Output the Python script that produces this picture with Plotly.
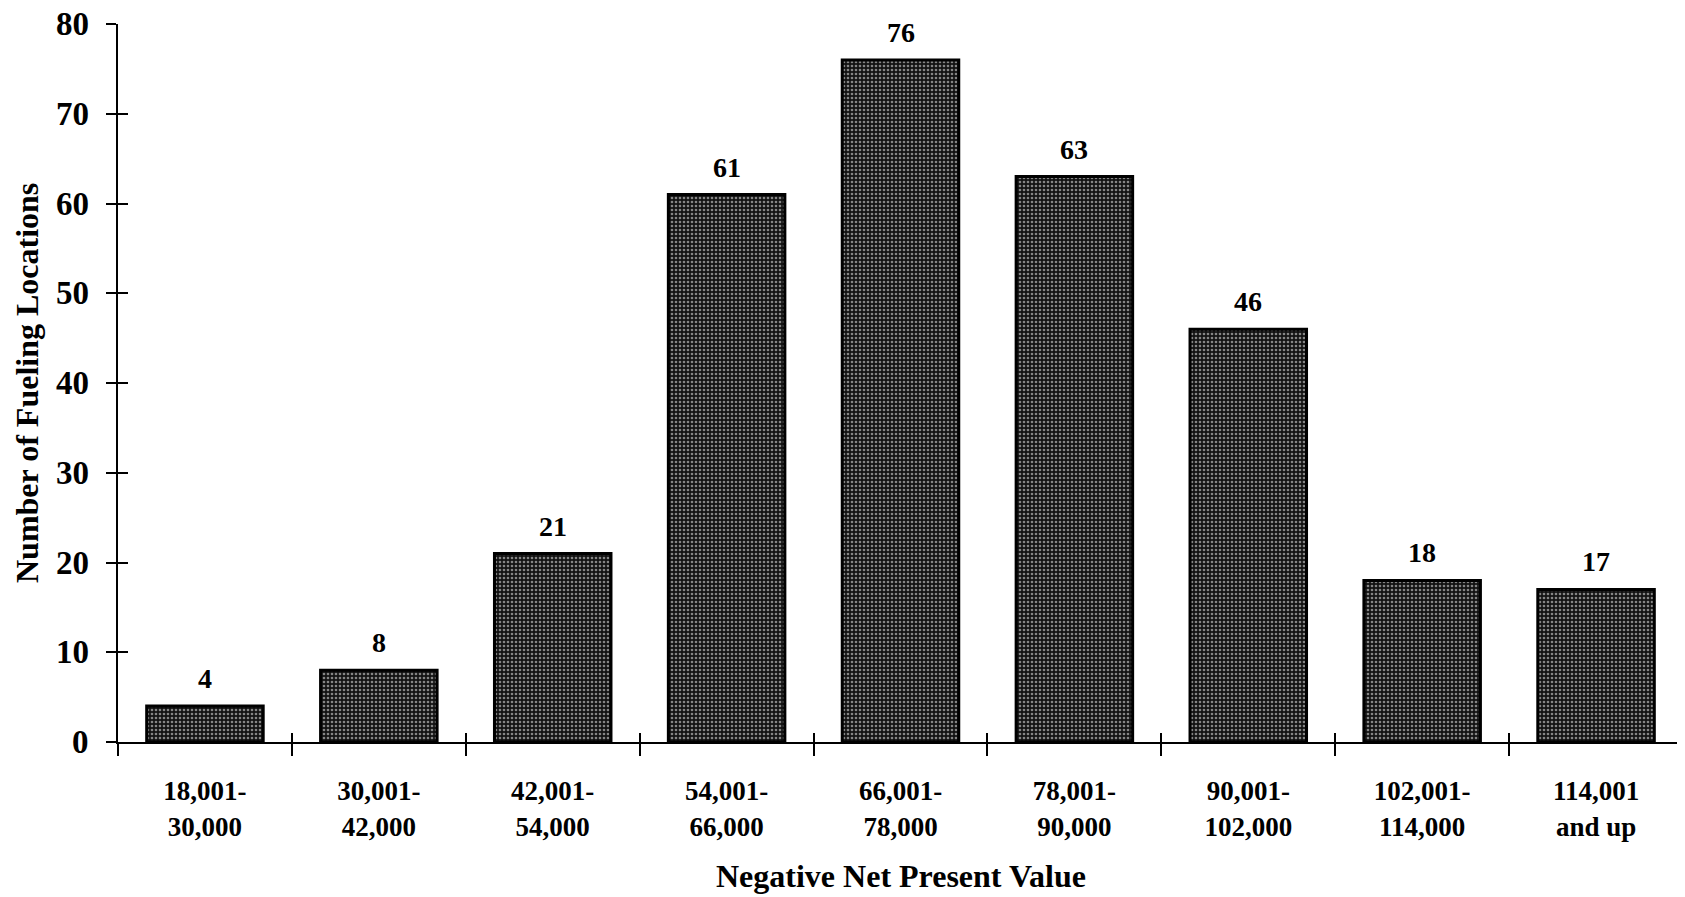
import plotly.graph_objects as go

categories = ["18,001-<br>30,000", "30,001-<br>42,000", "42,001-<br>54,000",
              "54,001-<br>66,000", "66,001-<br>78,000", "78,001-<br>90,000",
              "90,001-<br>102,000", "102,001-<br>114,000", "114,001<br>and up"]
counts = [4, 8, 21, 61, 76, 63, 46, 18, 17]
y_ticks = [0, 10, 20, 30, 40, 50, 60, 70, 80]
x_title = "Negative Net Present Value"
y_title = "Number of Fueling Locations"

FONT = "Liberation Serif"

fig = go.Figure()
fig.add_trace(go.Bar(
    x=categories, y=counts,
    marker=dict(
        color="#1c1c1c",
        line=dict(color="#000000", width=3),
        pattern=dict(shape=".", fgcolor="#858585", bgcolor="#121212",
                     size=4, solidity=0.35, fillmode="replace"),
    ),
    showlegend=False,
    hoverinfo="x+y",
))
# empty trace so the overlay axes (inner halves of the crossing ticks) are drawn
fig.add_trace(go.Scatter(x=[], y=[], xaxis="x2", yaxis="y2",
                         showlegend=False, hoverinfo="skip"))

# value labels above bars
for c, v in zip(categories, counts):
    fig.add_annotation(x=c, y=v, text=str(v), showarrow=False,
                       yanchor="bottom", yshift=10,
                       font=dict(family=FONT, size=28, color="black", weight="bold"))

# y tick labels (as annotations so the top one is not dropped at the page edge)
for t in y_ticks:
    fig.add_annotation(xref="paper", yref="y", x=0, y=t, text=str(t),
                       showarrow=False, xanchor="right", yanchor="middle", xshift=-27,
                       font=dict(family=FONT, size=33, color="black", weight="bold"))

fig.add_annotation(xref="paper", yref="paper", x=0.5, y=0, text=x_title,
                   showarrow=False, xanchor="center", yanchor="middle", yshift=-134,
                   font=dict(family=FONT, size=32, color="black", weight="bold"))
fig.add_annotation(xref="paper", yref="paper", x=0, y=0.5, text=y_title,
                   showarrow=False, xanchor="center", yanchor="middle", xshift=-91,
                   textangle=-90,
                   font=dict(family=FONT, size=32, color="black", weight="bold"))

# the page body has an 8px default margin, so the figure is sized/margined to compensate
fig.update_layout(
    width=1677, height=889,
    margin=dict(l=110, r=2, t=16, b=155),
    paper_bgcolor="white", plot_bgcolor="white",
    bargap=0.33,
    font=dict(family=FONT, color="black", weight="bold"),
    xaxis=dict(
        type="category",
        tickson="boundaries",
        ticks="outside", ticklen=12, tickwidth=2, tickcolor="black",
        showline=True, linecolor="black", linewidth=2,
        showgrid=False, zeroline=False, automargin=False,
        tickfont=dict(family=FONT, size=27, color="black", weight="bold"),
        ticklabelstandoff=24,
        range=[-0.5, 8.5],
    ),
    yaxis=dict(
        range=[0, 80],
        tickvals=y_ticks,
        ticks="outside", ticklen=10, tickwidth=2, tickcolor="black",
        showline=True, linecolor="black", linewidth=2,
        showgrid=False, zeroline=False, automargin=False,
        showticklabels=False,
    ),
    yaxis2=dict(
        overlaying="y", anchor="x", side="left",
        range=[0, 80], tickvals=y_ticks,
        ticks="inside", ticklen=10, tickwidth=2, tickcolor="black",
        showticklabels=False, showgrid=False, zeroline=False, showline=False,
        automargin=False,
    ),
    xaxis2=dict(
        overlaying="x", anchor="y", side="bottom",
        range=[-0.5, 8.5], tickvals=[i - 0.5 for i in range(10)],
        ticks="inside", ticklen=9, tickwidth=2, tickcolor="black",
        showticklabels=False, showgrid=False, zeroline=False, showline=False,
        automargin=False,
    ),
)

fig.write_html("out.html")
